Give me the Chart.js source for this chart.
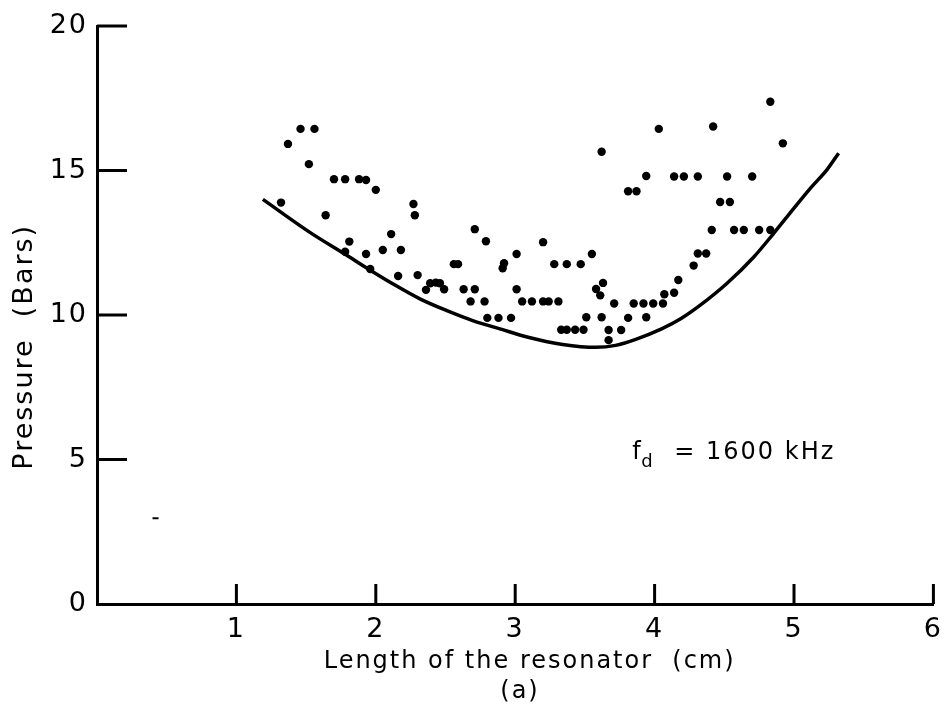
<!DOCTYPE html>
<html>
<head>
<meta charset="utf-8">
<script src="https://cdn.jsdelivr.net/npm/chart.js@4/dist/chart.umd.min.js"></script>
<style>
  body { margin: 0; background: #fff; }
  #chart1 { display: block; }
</style>
</head>
<body>
<canvas id="chart1" width="952" height="715"></canvas>
<script>
/******************************************************************************
 * data
 *****************************************************************************/
const dotX = [1.32, 1.37, 1.46, 1.56, 1.52, 1.64, 1.70, 1.78, 1.88, 1.93, 2.00, 2.27, 2.28, 2.11,
    1.81, 1.78, 1.93, 2.05, 2.18, 1.96, 2.16, 2.30, 2.56, 2.59, 2.39, 2.43, 2.46, 2.36, 2.49, 2.63,
    2.71, 2.71, 2.79, 2.68, 2.78, 3.01, 2.92, 2.91, 3.01, 3.05, 3.12, 3.20, 3.24, 3.31, 3.20, 2.80,
    2.88, 2.97, 3.28, 3.37, 3.47, 3.55, 3.62, 3.63, 3.58, 3.61, 3.71, 3.85, 3.92, 3.99, 4.06, 4.07,
    4.14, 4.17, 4.28, 4.31, 4.37, 4.41, 4.57, 4.64, 4.75, 4.83, 4.47, 4.54, 3.94, 4.14, 4.21, 4.31,
    4.52, 4.70, 3.81, 3.87, 4.03, 4.42, 4.83, 4.92, 3.51, 3.62, 3.81, 3.94, 3.33, 3.37, 3.43, 3.49,
    3.67, 3.76, 3.67];
const dotY = [13.89, 15.92, 16.44, 16.44, 15.22, 13.45, 14.70, 14.70, 14.70, 14.67, 14.33, 13.84,
    13.45, 12.80, 12.54, 12.19, 12.11, 12.25, 12.25, 11.59, 11.35, 11.38, 11.76, 11.76, 11.10, 11.12,
    11.10, 10.87, 10.89, 10.89, 10.89, 12.97, 12.55, 10.47, 10.47, 12.11, 11.79, 11.62, 10.89, 10.47,
    10.47, 10.47, 10.47, 10.47, 12.52, 9.90, 9.90, 9.90, 11.76, 11.76, 11.76, 12.11, 15.65, 11.11,
    10.90, 10.68, 10.40, 10.40, 10.40, 10.40, 10.40, 10.72, 10.77, 11.21, 11.71, 12.13, 12.13, 12.94,
    12.94, 12.94, 12.94, 12.94, 13.91, 13.91, 14.81, 14.79, 14.79, 14.79, 14.79, 14.79, 14.28, 14.28,
    16.44, 16.52, 17.38, 15.94, 9.92, 9.92, 9.90, 9.92, 9.49, 9.49, 9.49, 9.49, 9.48, 9.48, 9.13];

const curveX = [1.19, 1.53, 1.78, 1.96, 2.15, 2.32, 2.51, 2.70, 2.89, 3.10, 3.34, 3.58, 3.72, 3.86,
    4.05, 4.19, 4.33, 4.52, 4.71, 4.85, 5.00, 5.12, 5.24, 5.32];
const curveY = [14.0, 12.85, 12.1, 11.55, 11.0, 10.55, 10.15, 9.8, 9.52, 9.22, 8.98, 8.88, 8.95, 9.15,
    9.52, 9.88, 10.35, 11.1, 12.0, 12.8, 13.7, 14.4, 15.05, 15.6];

// stray mark near the lower left of the plot
const speckX = [0.42];
const speckY = [2.97];

const xTicks = [1, 2, 3, 4, 5, 6];
const yTicks = [0, 5, 10, 15, 20];

const xTitle = ['   Length of the resonator  (cm)', ' (a)'];
const yTitle = 'Pressure  (Bars)';
const noteAt = [3.84, 5.3];

/******************************************************************************
 * chart
 *****************************************************************************/
const FONT = 'DejaVu Sans';
const toPoints = (xs, ys) => xs.map((x, i) => ({ x: x, y: ys[i] }));

// the lettering in the original is widely spaced
const spacedText = {
    id: 'spacedText',
    beforeDraw(chart) {
        chart.ctx.letterSpacing = '2px';
    }
};

// tick marks point inward in the original, so draw them here
const inwardTicks = {
    id: 'inwardTicks',
    afterDraw(chart) {
        const { ctx, scales: { x, y } } = chart;
        ctx.save();
        ctx.strokeStyle = '#000';
        ctx.lineWidth = 3;
        ctx.beginPath();
        yTicks.filter(v => v > 0).forEach(v => {
            const py = y.getPixelForValue(v);
            ctx.moveTo(x.left, py);
            ctx.lineTo(x.left + 30, py);
        });
        xTicks.forEach(v => {
            const px = x.getPixelForValue(v);
            ctx.moveTo(px, y.bottom);
            ctx.lineTo(px, y.bottom - 20);
        });
        ctx.stroke();

        // f_d note
        const nx = x.getPixelForValue(noteAt[0]);
        const ny = y.getPixelForValue(noteAt[1]);
        ctx.fillStyle = '#000';
        ctx.textBaseline = 'alphabetic';
        ctx.textAlign = 'left';
        ctx.font = '24px "' + FONT + '"';
        ctx.fillText('f', nx, ny + 8);
        ctx.font = '18px "' + FONT + '"';
        ctx.fillText('d', nx + 9, ny + 16);
        ctx.font = '24px "' + FONT + '"';
        ctx.fillText('= 1600 kHz', nx + 42, ny + 8);
        ctx.restore();
    }
};

const ctx = document.getElementById('chart1');

new Chart(ctx, {
    type: 'scatter',
    data: {
        datasets: [{
            label: 'Measured',
            data: toPoints(dotX, dotY),
            backgroundColor: '#000',
            borderColor: '#000',
            pointRadius: 4.2,
            pointBorderWidth: 0
        }, {
            label: 'Curve',
            data: toPoints(curveX, curveY),
            showLine: true,
            borderColor: '#000',
            borderWidth: 3.5,
            pointRadius: 0,
            cubicInterpolationMode: 'monotone'
        }, {
            label: 'Speck',
            data: toPoints(speckX, speckY),
            pointStyle: 'line',
            pointRadius: 3,
            borderColor: '#000',
            borderWidth: 2
        }]
    },
    options: {
        responsive: false,
        animation: false,
        events: [],
        layout: { padding: { top: 26, right: 11, left: 0, bottom: 0 } },
        plugins: {
            legend: { display: false },
            tooltip: { enabled: false }
        },
        scales: {
            x: {
                type: 'linear',
                min: 0,
                max: 6,
                afterFit: s => { s.height = 111; },
                grid: { display: false, drawTicks: false },
                border: { display: true, color: '#000', width: 3 },
                ticks: {
                    stepSize: 1,
                    padding: 10,
                    color: '#000',
                    font: { family: FONT, size: 27 },
                    callback: v => (xTicks.includes(v) ? String(v) : '')
                },
                title: {
                    display: true,
                    text: xTitle,
                    color: '#000',
                    font: { family: FONT, size: 24, lineHeight: '30px' },
                    padding: { top: 0, bottom: 8 }
                }
            },
            y: {
                type: 'linear',
                min: 0,
                max: 20,
                afterFit: s => { s.width = 97; },
                grid: { display: false, drawTicks: false },
                border: { display: true, color: '#000', width: 3 },
                ticks: {
                    stepSize: 5,
                    padding: 9,
                    color: '#000',
                    font: { family: FONT, size: 27 },
                    callback: v => (yTicks.includes(v) ? String(v) : '')
                },
                title: {
                    display: true,
                    text: yTitle + '      ',
                    color: '#000',
                    font: { family: FONT, size: 27 },
                    padding: { top: 9, bottom: 0 }
                }
            }
        }
    },
    plugins: [spacedText, inwardTicks]
});
</script>
</body>
</html>
